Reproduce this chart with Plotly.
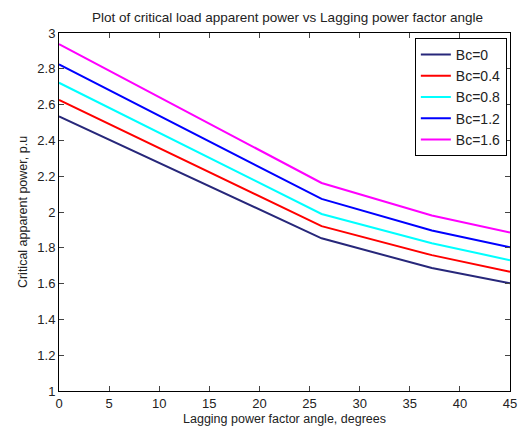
import plotly.graph_objects as go

angle_deg = [0, 25, 26.2, 37.2, 45]
series_names = ["Bc=0", "Bc=0.4", "Bc=0.8", "Bc=1.2", "Bc=1.6"]
bc_0 = [2.534, 1.884, 1.853, 1.687, 1.602]
bc_04 = [2.626, 1.955, 1.921, 1.759, 1.666]
bc_08 = [2.722, 2.025, 1.989, 1.825, 1.731]
bc_12 = [2.825, 2.107, 2.073, 1.897, 1.803]
bc_16 = [2.938, 2.195, 2.162, 1.980, 1.886]
colors = ["#27277a", "#ff0000", "#00ffff", "#0000ff", "#ff00ff"]

x_ticks = list(range(0, 50, 5))
y_ticks = [1, 1.2, 1.4, 1.6, 1.8, 2, 2.2, 2.4, 2.6, 2.8, 3]
y_tick_labels = ["1", "1.2", "1.4", "1.6", "1.8", "2", "2.2", "2.4", "2.6", "2.8", "3"]

fig = go.Figure()
for name, vals, c in zip(series_names, [bc_0, bc_04, bc_08, bc_12, bc_16], colors):
    fig.add_trace(go.Scatter(x=angle_deg, y=vals, mode="lines", name=name,
                             line=dict(color=c, width=2)))

font = "Liberation Sans, Arial, sans-serif"
fig.update_layout(
    width=529, height=435,
    margin=dict(l=59, r=13, t=33, b=40),
    paper_bgcolor="white", plot_bgcolor="white",
    font=dict(family=font, size=13, color="#222222"),
    title=dict(text="Plot of critical load apparent power vs Lagging power factor angle",
               x=(59 + 516) / 2 / 529, xanchor="center", y=1 - 17 / 435, yanchor="middle",
               font=dict(size=13.5)),
    showlegend=True,
    legend=dict(x=0.993, y=0.986, xanchor="right", yanchor="top",
                bgcolor="white", bordercolor="black", borderwidth=1,
                font=dict(size=14), tracegroupgap=0),
)
fig.update_xaxes(range=[0, 45], tickvals=x_ticks, ticks="inside", ticklen=5,
                 showline=True, linecolor="black", linewidth=1, mirror="ticks",
                 showgrid=False, zeroline=False, tickfont=dict(size=13),
                 title=dict(text="Lagging power factor angle, degrees", standoff=4,
                            font=dict(size=12.5)))
fig.update_yaxes(range=[1, 3], tickvals=y_ticks, ticktext=y_tick_labels, ticks="inside", ticklen=5,
                 showline=True, linecolor="black", linewidth=1, mirror="ticks",
                 showgrid=False, zeroline=False, tickfont=dict(size=13),
                 title=dict(text="Critical apparent power, p.u", standoff=6,
                            font=dict(size=12.5)))
fig.write_html("out.html")
